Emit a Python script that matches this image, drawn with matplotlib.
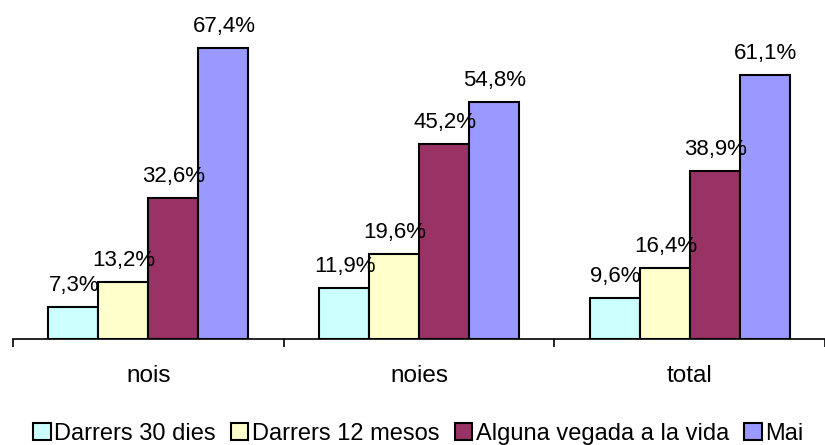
import matplotlib
matplotlib.use("Agg")
import matplotlib.pyplot as plt
import numpy as np

plt.rcParams["font.family"] = ["Liberation Sans", "DejaVu Sans"]

groups = ["nois", "noies", "total"]
series = ["Darrers 30 dies", "Darrers 12 mesos", "Alguna vegada a la vida", "Mai"]
darrers_30 = [7.3, 11.9, 9.6]
darrers_12 = [13.2, 19.6, 16.4]
alguna_vegada = [32.6, 45.2, 38.9]
mai = [67.4, 54.8, 61.1]
values = [darrers_30, darrers_12, alguna_vegada, mai]
colors = ["#CCFFFF", "#FFFFCC", "#993366", "#9999FF"]

fig = plt.figure(figsize=(8.25, 4.45), dpi=100)
ax = fig.add_axes([13 / 825, 106 / 445, 812 / 825, 324 / 445])

x = np.arange(len(groups)) + 0.5
w = 0.185
for i, (name, vals, col) in enumerate(zip(series, values, colors)):
    pos = x + (i - 1.5) * w
    ax.bar(pos, vals, width=w, color=col, edgecolor="black",
           linewidth=1.5, label=name)
    for xp, v in zip(pos, vals):
        ax.annotate(f"{v:.1f}%".replace(".", ","), (xp, v), xytext=(0.5, 11.5),
                    textcoords="offset points", ha="center", va="baseline",
                    fontsize=16, clip_on=False)

ax.set_xlim(0, 3)
ax.set_ylim(0, 75)
for s in ["top", "right", "left"]:
    ax.spines[s].set_visible(False)
ax.spines["bottom"].set_linewidth(1.2)
ax.set_yticks([])
ax.set_xticks(x)
ax.set_xticklabels(groups, fontsize=17.5)
ax.tick_params(axis="x", which="major", length=0, pad=19)
ax.set_xticks([0, 1, 2, 3], minor=True)
ax.tick_params(axis="x", which="minor", length=6, width=1.2, direction="out")

fig.legend(loc="lower center", bbox_to_anchor=(0.507, -0.026), ncol=4,
           frameon=False, fontsize=17, handlelength=0.75, handleheight=0.75,
           handletextpad=0.15, columnspacing=0.64, borderpad=0)

fig.savefig("out.png", dpi=100)
